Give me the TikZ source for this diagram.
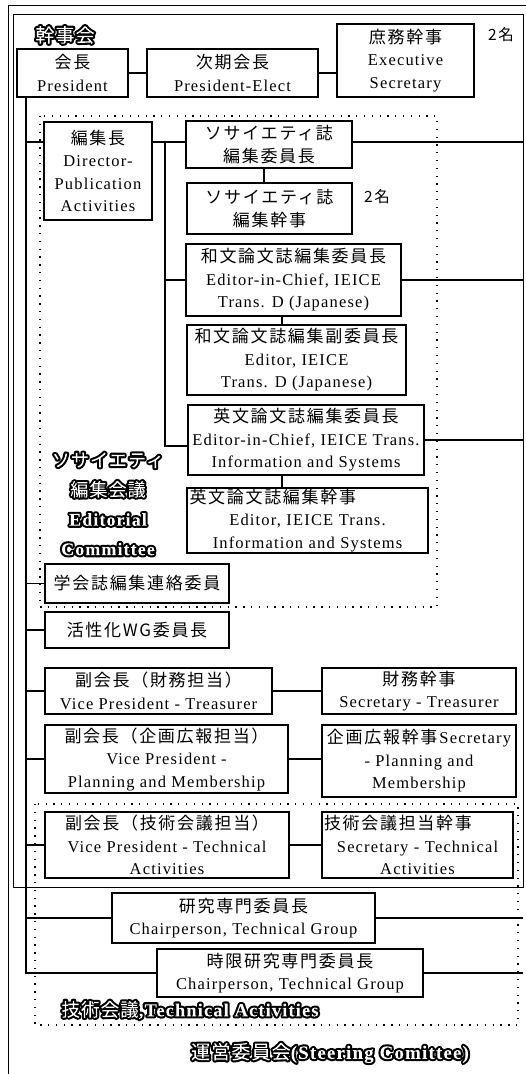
\documentclass[tikz,border=0pt]{standalone}
\usepackage{fontspec}
\setmainfont[LetterSpace=7]{Liberation Serif}
\newfontfamily\ja[LetterSpace=10]{Noto Sans CJK JP}
\newfontfamily\jaol[LetterSpace=6]{Noto Sans CJK JP}
\newfontfamily\enol[LetterSpace=6]{Liberation Serif}
\newcommand\J[1]{{\ja\fontsize{17}{22.5}\selectfont #1}}
\newsavebox\olbox
\newcommand\outl[1]{\sbox\olbox{#1}%
  \special{pdf:literal q 0 G 4.2 w 1 j 5 Tr}%
  \rlap{\usebox\olbox}%
  \rlap{\kern-3pt\textcolor{white}{\rule[\dimexpr-\dp\olbox-3pt\relax]{\dimexpr\wd\olbox+6pt\relax}{\dimexpr\ht\olbox+\dp\olbox+6pt\relax}}}%
  \special{pdf:literal Q}%
  \kern\wd\olbox}
\begin{document}
\begin{tikzpicture}[x=1pt,y=-1pt,
  bx/.style={draw, line width=1.35pt, inner sep=0pt, align=center, fill=white, font=\fontsize{16.5}{22.5}\selectfont},
  ln/.style={line width=1.3pt},
  fr/.style={line width=0.9pt},
  dotfr/.style={line width=1.3pt, dash pattern=on 1.3pt off 6.5pt},
  lab/.style={inner sep=0pt, align=center},
  note/.style={inner sep=0pt}]
\useasboundingbox (0,0) rectangle (526,1074);
% frames
\draw[fr] (8,1080) -- (8,5) -- (530,5);
\draw[fr] (13,14) rectangle (523,887);
\draw[dotfr] (40,116) rectangle (437,607);
\draw[dotfr] (35,804) rectangle (518,1025);
% boxes
\node[bx, minimum width=111pt, minimum height=48pt] (pres) at (72.5,73) {\J{会長}\\President};
\node[bx, minimum width=171pt, minimum height=48pt] (elect) at (232.5,73) {\J{次期会長}\\President-Elect};
\node[bx, minimum width=137pt, minimum height=73pt] (exsec) at (405.5,60.5) {\J{庶務幹事}\\Executive\\Secretary};
\node[bx, minimum width=108pt, minimum height=98pt] (edir) at (98,171) {\J{編集長}\\Director-\\Publication\\Activities};
\node[bx, minimum width=166pt, minimum height=47pt] (soc1) at (269,144.5) {\J{ソサイエティ誌}\\\J{編集委員長}};
\node[bx, minimum width=165pt, minimum height=51pt] (soc2) at (269.5,208.5) {\J{ソサイエティ誌}\\\J{編集幹事}};
\node[bx, minimum width=215pt, minimum height=72pt] (wa1) at (293.5,280) {\J{和文論文誌編集委員長}\\Editor-in-Chief, IEICE\\Trans. D (Japanese)};
\node[bx, minimum width=219pt, minimum height=70pt] (wa2) at (296.5,360) {\J{和文論文誌編集副委員長}\\Editor, IEICE\\Trans. D (Japanese)};
\node[bx, minimum width=236pt, minimum height=70pt] (en1) at (306,440) {\J{英文論文誌編集委員長}\\Editor-in-Chief, IEICE Trans.\\Information and Systems};
\node[bx, minimum width=241pt, minimum height=65pt, text width=236pt] (en2) at (307.5,520.5) {\makebox[236pt][l]{\J{英文論文誌編集幹事}}\\Editor, IEICE Trans.\\Information and Systems};
\node[bx, minimum width=184pt, minimum height=39pt] (gakkai) at (137,583.5) {\J{学会誌編集連絡委員}};
\node[bx, minimum width=184pt, minimum height=36pt] (kasseika) at (137,630) {\J{活性化WG委員長}};
\node[bx, minimum width=227pt, minimum height=46pt] (vpt) at (158.5,691) {\J{副会長（財務担当）}\\Vice President - Treasurer};
\node[bx, minimum width=194pt, minimum height=46pt] (sect) at (419,691) {\J{財務幹事}\\Secretary - Treasurer};
\node[bx, minimum width=243pt, minimum height=68pt] (vpp) at (166.5,759) {\J{副会長（企画広報担当）}\\Vice President -\\Planning and Membership};
\node[bx, minimum width=194pt, minimum height=72pt] (secp) at (419,761) {\J{企画広報幹事}\kern2pt Secretary\\- Planning and\\Membership};
\node[bx, minimum width=244pt, minimum height=66pt] (vptech) at (167,845) {\J{副会長（技術会議担当）}\\Vice President - Technical\\Activities};
\node[bx, minimum width=191pt, minimum height=66pt, text width=187pt] (sectech) at (417.5,845) {\makebox[187pt][l]{\J{技術会議担当幹事}}\\Secretary - Technical\\Activities};
\node[bx, minimum width=263pt, minimum height=50pt] (kenkyu) at (243.5,918) {\J{研究専門委員長}\\Chairperson, Technical Group};
\node[bx, minimum width=266pt, minimum height=48pt] (jigen) at (290,973) {\J{時限研究専門委員長}\\Chairperson, Technical Group};
% notes
\node[note] (n1) at (501,35) {{\ja\fontsize{15.5}{18}\selectfont 2名}};
\node[note] (n2) at (377,197) {{\ja\fontsize{15.5}{18}\selectfont 2名}};
% labels
\node[lab, font=\fontsize{19}{20}\selectfont] (kanjikai) at (65,35) {\outl{\jaol 幹事会}};
\node[lab, font=\fontsize{18}{29.5}\selectfont] (edcom) at (108,504) {\outl{\jaol ソサイエティ}\\\outl{\jaol 編集会議}\\\outl{\enol\bfseries Editorial}\\\outl{\enol\bfseries Committee}};
\node[lab, font=\fontsize{18.5}{20}\selectfont] (techlab) at (190,1010) {\outl{\jaol 技術会議}\outl{\enol\bfseries ,Technical Activities}};
\node[lab, font=\fontsize{19}{20}\selectfont] (steer) at (330,1053) {\outl{\jaol 運営委員会}\outl{\enol\bfseries (Steering Comittee)}};
% connectors
\coordinate (tr) at (26,97);
\coordinate (rx) at (523,0);
\coordinate (e1) at (26,142);
\coordinate (sp) at (165,142);
\coordinate (sq) at (165,446);
\draw[ln] (pres) -- (elect);
\draw[ln] (elect.east) -- (elect.east -| exsec.west);
\draw[ln] (tr) |- (jigen.west);
\draw[ln] (e1) -- (e1 -| edir.west);
\draw[ln] (tr |- gakkai.west) -- (gakkai.west);
\draw[ln] (tr |- kasseika.west) -- (kasseika.west);
\draw[ln] (tr |- vpt.west) -- (vpt.west);
\draw[ln] (tr |- vpp.west) -- (vpp.west);
\draw[ln] (tr |- vptech.west) -- (vptech.west);
\draw[ln] (tr |- kenkyu.west) -- (kenkyu.west);
\draw[ln] (sp -| edir.east) -- (sp -| soc1.west);
\draw[ln] (sp) -- (sq) -- (sq -| en1.west);
\draw[ln] (sp |- wa1.west) -- (wa1.west);
\draw[ln] (soc1.south -| 264,0) -- (soc2.north -| 264,0);
\draw[ln] (wa1.south -| 282,0) -- (wa2.north -| 282,0);
\draw[ln] (en1.south -| 282,0) -- (en2.north -| 282,0);
\draw[ln] (sp -| soc1.east) -- (sp -| rx);
\draw[ln] (wa1.east) -- (wa1.east -| rx);
\draw[ln] (en1.east) -- (en1.east -| rx);
\draw[ln] (vpt) -- (sect);
\draw[ln] (vpp.east) -- (vpp.east -| secp.west);
\draw[ln] (vptech) -- (sectech);
\draw[ln] (kenkyu.east) -- (kenkyu.east -| rx);
\draw[ln] (jigen.east) -- (jigen.east -| rx);
\end{tikzpicture}
\end{document}
